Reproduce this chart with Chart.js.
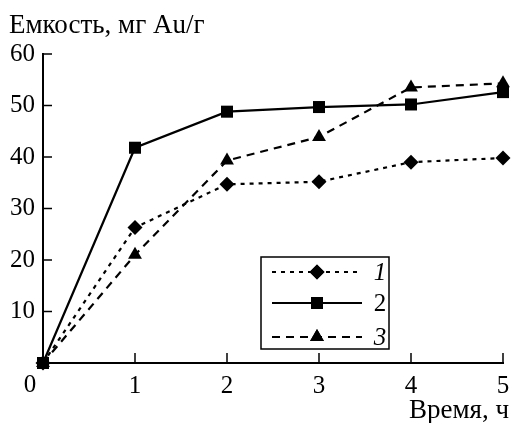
<!DOCTYPE html>
<html>
<head>
<meta charset="utf-8">
<script src="https://cdn.jsdelivr.net/npm/chart.js@4"></script>
<style>
  html, body { margin: 0; padding: 0; background: #fff; }
  #wrap { width: 512px; height: 423px; }
</style>
</head>
<body>
<div id="wrap"><canvas id="chart" width="512" height="423"></canvas></div>
<script>
// time, h
const hours = [0, 1, 2, 3, 4, 5];
// capacity, mg Au/g
const series1 = [0, 26.3, 34.7, 35.2, 39.0, 39.8];
const series2 = [0, 41.8, 48.8, 49.7, 50.2, 52.6];
const series3 = [0, 21.0, 39.3, 43.9, 53.5, 54.3];
const seriesNames = ["1", "2", "3"];
const xTicks = [0, 1, 2, 3, 4, 5];
const yTicks = [0, 10, 20, 30, 40, 50, 60];

const serif = "'Liberation Serif', 'DejaVu Serif', serif";

function toPoints(vals) {
  return hours.map((h, i) => ({ x: h, y: vals[i] }));
}

const styles = [
  { dash: [4, 5], point: "rectRot", radius: 7.5, italic: true },
  { dash: [], point: "rect", radius: 8.5, italic: false },
  { dash: [8, 6], point: "triangle", radius: 8, italic: true },
];

const datasets = [series1, series2, series3].map((vals, i) => ({
  label: seriesNames[i],
  data: toPoints(vals),
  borderColor: "#000",
  backgroundColor: "#000",
  borderWidth: 2.2,
  borderDash: styles[i].dash,
  pointStyle: styles[i].point,
  pointRadius: styles[i].radius,
  pointBackgroundColor: "#000",
  pointBorderColor: "#000",
  pointBorderWidth: 0,
  tension: 0,
  clip: false,
}));

// inward tick marks, the shared "0", axis titles and the boxed legend
const extras = {
  id: "extras",
  afterDraw(chart) {
    const ctx = chart.ctx;
    const xs = chart.scales.x, ys = chart.scales.y;
    const area = chart.chartArea;
    ctx.save();
    ctx.strokeStyle = "#000";
    ctx.lineWidth = 1.5;
    xTicks.slice(1).forEach((v) => {
      const px = xs.getPixelForValue(v);
      ctx.beginPath();
      ctx.moveTo(px, area.bottom);
      ctx.lineTo(px, area.bottom - 10);
      ctx.stroke();
    });
    yTicks.slice(1).forEach((v) => {
      const py = ys.getPixelForValue(v);
      ctx.beginPath();
      ctx.moveTo(area.left, py);
      ctx.lineTo(area.left + 9, py);
      ctx.stroke();
    });

    ctx.fillStyle = "#000";
    ctx.font = "25px " + serif;
    ctx.textAlign = "center";
    ctx.textBaseline = "middle";
    ctx.fillText("0", area.left - 13, area.bottom + 22);

    ctx.font = "27px " + serif;
    ctx.textAlign = "left";
    ctx.textBaseline = "alphabetic";
    ctx.fillText("Емкость, мг Au/г", 9, 33);
    ctx.textAlign = "right";
    ctx.fillText("Время, ч", 509, 418);

    // legend box
    const bx = 261, by = 257, bw = 128, bh = 92;
    ctx.lineWidth = 1.5;
    ctx.strokeRect(bx, by, bw, bh);
    const rows = [272, 303, 337];
    datasets.forEach((ds, i) => {
      const y = rows[i];
      ctx.lineWidth = 2.2;
      ctx.setLineDash(styles[i].dash);
      ctx.beginPath();
      ctx.moveTo(272, y);
      ctx.lineTo(362, y);
      ctx.stroke();
      ctx.setLineDash([]);
      Chart.helpers.drawPoint(ctx, {
        pointStyle: styles[i].point,
        radius: styles[i].radius,
        borderWidth: 0,
        rotation: 0,
      }, 317, y);
      ctx.fill();
      ctx.font = (styles[i].italic ? "italic " : "") + "25px " + serif;
      ctx.textAlign = "center";
      ctx.textBaseline = "middle";
      ctx.fillText(ds.label, 380, y + 1);
    });
    ctx.restore();
  },
};

const chart = new Chart(document.getElementById("chart").getContext("2d"), {
  type: "line",
  data: { datasets: datasets },
  options: {
    responsive: false,
    animation: false,
    layout: { padding: { top: 54, right: 9, left: 0, bottom: 0 } },
    plugins: { legend: { display: false }, tooltip: { enabled: false } },
    scales: {
      x: {
        type: "linear",
        min: 0,
        max: 5,
        afterBuildTicks: (s) => { s.ticks = xTicks.map((v) => ({ value: v })); },
        afterFit: (s) => {
          s.height = 60;
          s.paddingLeft = 0;
          s.paddingRight = 0;
        },
        grid: { display: false, drawTicks: false },
        border: { display: true, color: "#000", width: 2 },
        ticks: {
          color: "#000",
          font: { family: serif, size: 25 },
          padding: 8,
          maxRotation: 0,
          callback: (v) => (v === 0 ? "" : String(v)),
        },
      },
      y: {
        min: 0,
        max: 60,
        afterBuildTicks: (s) => { s.ticks = yTicks.map((v) => ({ value: v })); },
        afterFit: (s) => {
          s.width = 43;
          s.paddingTop = 0;
          s.paddingBottom = 0;
        },
        grid: { display: false, drawTicks: false },
        border: { display: true, color: "#000", width: 2 },
        ticks: {
          color: "#000",
          font: { family: serif, size: 25 },
          padding: 8,
          callback: (v) => (v === 0 ? "" : String(v)),
        },
      },
    },
  },
  plugins: [extras],
});
</script>
</body>
</html>
